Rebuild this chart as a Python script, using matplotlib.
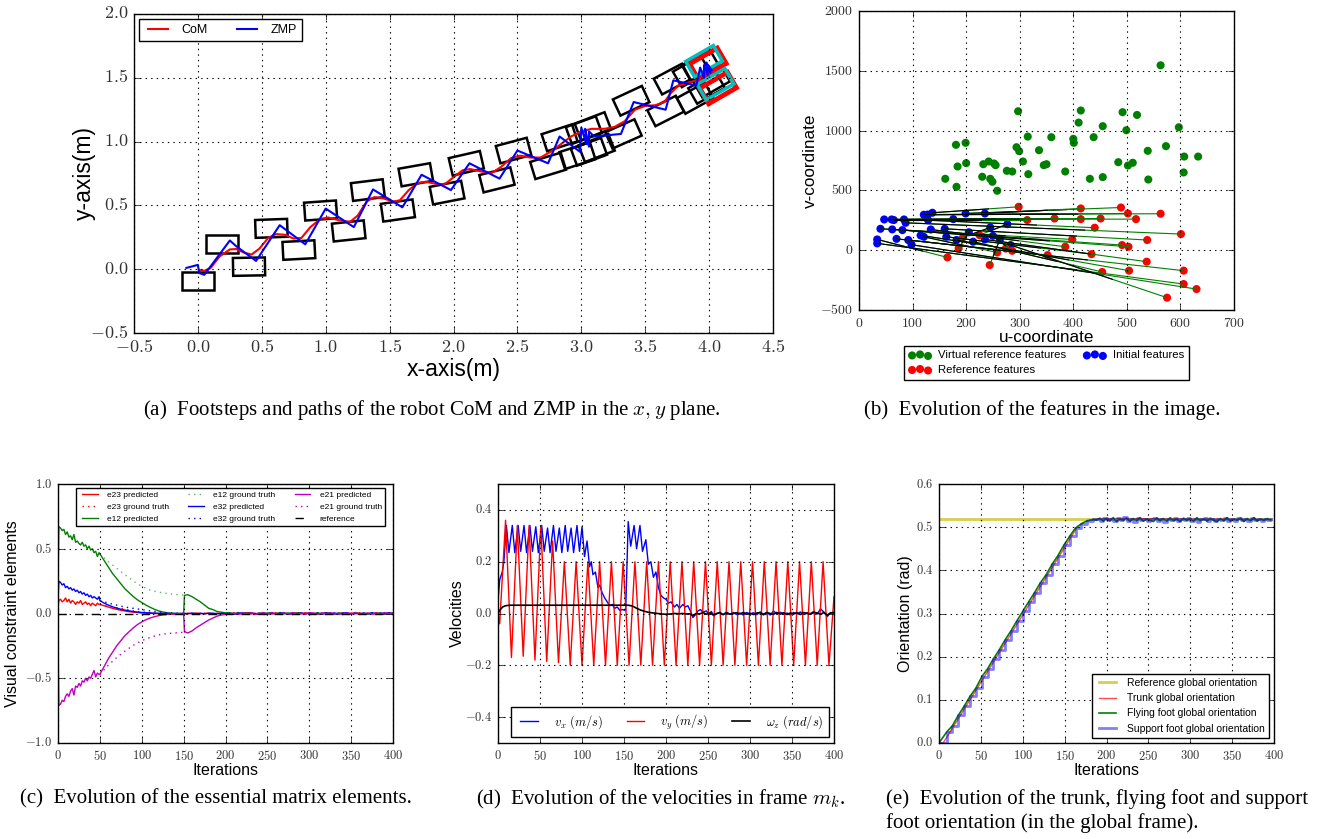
import numpy as np
import matplotlib
matplotlib.use('Agg')
import matplotlib.pyplot as plt
from matplotlib.patches import Rectangle
from matplotlib.ticker import FuncFormatter

plt.style.use('classic')
plt.rcParams['figure.facecolor'] = 'white'
plt.rcParams['savefig.facecolor'] = 'white'
plt.rcParams['font.family'] = ['Liberation Sans', 'DejaVu Sans']
plt.rcParams['mathtext.fontset'] = 'cm'

# ---------------- (a) footsteps, CoM and ZMP ----------------
foot_x = [0.00, 0.19, 0.40, 0.575, 0.79, 0.96, 1.18, 1.33, 1.565, 1.705, 1.95, 2.10, 2.34,
          2.47, 2.74, 2.83, 2.97, 3.02, 3.06, 3.09, 3.12, 3.33, 3.39, 3.66, 3.71, 3.89,
          3.86, 3.93, 3.98, 4.02]
foot_y = [-0.09, 0.20, 0.02, 0.32, 0.15, 0.46, 0.30, 0.62, 0.46, 0.74, 0.60, 0.83, 0.70,
          0.93, 0.81, 1.03, 0.89, 1.09, 0.92, 1.12, 0.95, 1.06, 1.32, 1.24, 1.49, 1.34,
          1.55, 1.60, 1.42, 1.47]
foot_th = [0, 0, 1, 2, 3, 4, 6, 7, 8, 10, 11, 13, 14,
           15, 17, 18, 18, 20, 20, 21, 21, 24, 25, 27, 28, 29,
           30, 30, 30, 30]
final_x = [3.99, 4.07]
final_y = [1.61, 1.42]
goal_x = [3.96, 4.05]
goal_y = [1.63, 1.45]
foot_len, foot_wid = 0.25, 0.14

com_x = [0.01, 0.05, 0.10, 0.17, 0.25, 0.30, 0.36, 0.42, 0.48, 0.55, 0.61, 0.68, 0.75, 0.81,
         0.88, 0.96, 1.02, 1.10, 1.19, 1.25, 1.32, 1.38, 1.45, 1.53, 1.58, 1.65, 1.72, 1.78,
         1.86, 1.93, 2.00, 2.07, 2.13, 2.22, 2.30, 2.37, 2.45, 2.52, 2.60, 2.68, 2.76, 2.84,
         2.92, 3.00, 3.08, 3.18, 3.26, 3.34, 3.42, 3.50, 3.58, 3.65, 3.70, 3.76, 3.83, 3.90,
         3.96, 4.00]
com_y = [-0.005, -0.013, 0.01, 0.10, 0.155, 0.158, 0.13, 0.115, 0.16, 0.245, 0.275, 0.27,
         0.24, 0.245, 0.33, 0.395, 0.405, 0.385, 0.37, 0.42, 0.53, 0.565, 0.555, 0.53, 0.54,
         0.62, 0.675, 0.685, 0.67, 0.665, 0.72, 0.775, 0.785, 0.765, 0.755, 0.80, 0.87, 0.89,
         0.875, 0.875, 0.92, 0.98, 1.04, 1.08, 1.10, 1.10, 1.115, 1.16, 1.25, 1.28, 1.285,
         1.31, 1.38, 1.44, 1.46, 1.48, 1.52, 1.55]

zmp_x = [-0.09, 0.0, 0.01, 0.05, 0.25, 0.30, 0.455, 0.64, 0.84, 1.0, 1.22, 1.37, 1.60,
         1.75, 1.98, 2.125, 2.36, 2.50, 2.74, 2.83, 2.99, 3.00, 3.04, 3.03, 3.06, 3.06,
         3.10, 3.31, 3.41, 3.66, 3.72, 3.90, 3.93, 3.96, 3.96, 3.99, 3.98, 4.01, 3.99, 4.02]
zmp_y = [0.01, 0.034, -0.03, -0.044, 0.225, 0.18, 0.065, 0.345, 0.195, 0.475, 0.33, 0.625,
         0.485, 0.74, 0.62, 0.83, 0.71, 0.93, 0.83, 1.04, 0.92, 1.11, 0.98, 1.10, 0.96, 1.08,
         1.04, 1.06, 1.31, 1.25, 1.48, 1.44, 1.58, 1.50, 1.60, 1.52, 1.62, 1.54, 1.60, 1.56]

# ---------------- (b) image features ----------------
virt_u = [563, 297, 414, 492, 519, 410, 597, 455, 499, 315, 359, 400, 401, 438, 181, 199,
          294, 299, 336, 573, 539, 607, 633, 184, 200, 232, 242, 252, 255, 306, 345, 350,
          484, 502, 511, 161, 230, 245, 249, 182, 258, 276, 286, 316, 385, 431, 455, 540, 606]
virt_v = [1546, 1162, 1168, 1154, 1131, 1067, 1028, 1037, 1003, 950, 945, 931, 898, 945,
          881, 898, 861, 828, 836, 870, 831, 783, 783, 700, 728, 719, 742, 725, 711, 742,
          711, 719, 736, 708, 731, 597, 614, 597, 572, 530, 497, 664, 658, 636, 658, 597,
          611, 591, 650]
init_u = [137, 199, 235, 128, 121, 176, 47, 61, 84, 65, 129, 87, 277, 245, 40, 160, 62,
          134, 81, 205, 115, 250, 121, 163, 70, 34, 235, 263, 92, 182, 213, 34, 98, 283]
init_v = [313, 307, 307, 298, 296, 260, 257, 257, 257, 252, 251, 229, 218, 190, 179, 179,
          174, 173, 168, 150, 124, 120, 112, 112, 95, 90, 90, 90, 85, 85, 71, 57, 46, 43]
ref_u = [298, 489, 414, 502, 563, 451, 365, 517, 414, 314, 440, 601, 225, 194, 398, 538,
         491, 385, 503, 186, 274, 286, 258, 434, 352, 165, 537, 244, 606, 504, 454, 606,
         630, 575]
ref_v = [363, 357, 349, 307, 305, 265, 265, 260, 260, 252, 188, 135, 126, 107, 90, 85, 43,
         29, 29, 15, 14, -5, -19, -33, -41, -60, -96, -124, -171, -171, -182, -283, -325,
         -397]

# ---------------- (c) essential matrix elements ----------------
c_it = np.r_[0, 1:50:2, 50:151:5, 151, 155:401:5]
e12_pred = [0.25,
            0.67, 0.66, 0.64, 0.65, 0.61, 0.63, 0.59, 0.60, 0.57, 0.61, 0.55, 0.56, 0.54,
            0.53, 0.55, 0.52, 0.53, 0.50, 0.52, 0.49, 0.50, 0.47, 0.48, 0.44, 0.47,
            0.46, 0.41, 0.36, 0.31, 0.27, 0.23, 0.19, 0.16, 0.13, 0.105, 0.085, 0.065, 0.048,
            0.033, 0.02, 0.012, 0.006, 0.003, 0.001, 0.0, 0.0,
            0.14, 0.145, 0.13, 0.11, 0.09, 0.065, 0.04, 0.03, 0.015, 0.01, 0.005,
            0.006, -0.004, 0.008, -0.006, 0.003, 0.007, -0.005, 0.004, -0.007, 0.005,
            0.002, -0.006, 0.008, -0.003, 0.005, -0.008, 0.004, 0.006, -0.005, 0.003,
            -0.004, 0.007, -0.006, 0.002, 0.005, -0.007, 0.006, -0.002, 0.004, -0.006,
            0.008, -0.004, 0.003, -0.005, 0.006, -0.003, 0.005, -0.006, 0.004, 0.002]
e21_pred = [-0.20,
            -0.71, -0.70, -0.67, -0.68, -0.64, -0.62, -0.64, -0.60, -0.58, -0.63, -0.56,
            -0.57, -0.54, -0.56, -0.52, -0.53, -0.50, -0.52, -0.49, -0.50, -0.47, -0.44,
            -0.49, -0.46, -0.47,
            -0.47, -0.41, -0.35, -0.30, -0.25, -0.21, -0.17, -0.14, -0.11, -0.085, -0.065,
            -0.048, -0.035, -0.025, -0.017, -0.011, -0.007, -0.004, -0.002, -0.001, 0.0,
            -0.14, -0.15, -0.135, -0.11, -0.09, -0.07, -0.05, -0.035, -0.02, -0.012, -0.006,
            -0.005, 0.003, -0.007, 0.004, -0.002, 0.006, -0.008, 0.003, 0.005, -0.004,
            0.007, -0.003, -0.006, 0.004, -0.002, 0.008, -0.005, 0.003, -0.007, 0.005,
            0.002, -0.006, 0.004, -0.003, 0.007, -0.004, 0.002, -0.008, 0.005, -0.003,
            0.006, -0.002, -0.005, 0.004, -0.006, 0.003, -0.004, 0.007, -0.002, 0.003]
e32_pred = [0.10,
            0.25, 0.24, 0.22, 0.23, 0.20, 0.21, 0.19, 0.20, 0.18, 0.19, 0.17, 0.18, 0.16,
            0.17, 0.15, 0.16, 0.14, 0.15, 0.13, 0.14, 0.12, 0.13, 0.12, 0.11, 0.13,
            0.10, 0.08, 0.065, 0.052, 0.042, 0.033, 0.026, 0.02, 0.015, 0.011, 0.008, 0.006,
            0.004, 0.003, 0.002, 0.001, 0.0, 0.0, 0.0, 0.0, 0.0,
            0.002, -0.003, 0.004, -0.002, 0.003, -0.004, 0.002, 0.003, -0.003, 0.002, -0.002,
            0.003, -0.006, 0.002, 0.005, -0.004, 0.006, -0.002, -0.005, 0.004, -0.003,
            0.007, -0.005, 0.002, 0.004, -0.006, 0.003, -0.002, 0.005, -0.004, 0.006,
            -0.003, 0.002, -0.006, 0.005, -0.002, 0.004, -0.005, 0.003, 0.006, -0.004,
            0.002, -0.006, 0.004, -0.003, 0.005, -0.005, 0.003, -0.002, 0.006, -0.004]
e23_pred = [0.05,
            0.10, 0.11, 0.09, 0.10, 0.12, 0.09, 0.11, 0.08, 0.10, 0.09, 0.07, 0.09, 0.08,
            0.10, 0.07, 0.08, 0.09, 0.07, 0.08, 0.06, 0.08, 0.07, 0.06, 0.08, 0.07,
            0.07, 0.06, 0.05, 0.04, 0.032, 0.025, 0.019, 0.014, 0.01, 0.007, 0.005, 0.003,
            0.002, 0.0, -0.002, -0.004, -0.005, -0.005, -0.004, -0.006, -0.003,
            -0.004, 0.003, -0.002, 0.004, -0.003, 0.002, 0.003, -0.004, 0.002, -0.003, 0.003,
            -0.003, 0.005, -0.006, 0.002, 0.007, -0.004, 0.003, -0.007, 0.005, -0.002,
            -0.005, 0.006, -0.003, 0.004, -0.006, 0.002, 0.005, -0.004, 0.006, -0.002,
            0.004, -0.005, 0.003, 0.006, -0.006, 0.002, -0.003, 0.005, -0.007, 0.004,
            -0.002, 0.006, -0.004, 0.003, -0.005, 0.007, -0.003, 0.002, -0.006, 0.004]
gt_it = [50, 60, 70, 80, 90, 100, 110, 120, 130, 140, 150]
e12_gt = [0.46, 0.40, 0.35, 0.30, 0.25, 0.21, 0.18, 0.165, 0.155, 0.147, 0.143]
e21_gt = [-0.47, -0.40, -0.34, -0.29, -0.245, -0.21, -0.185, -0.165, -0.155, -0.15, -0.145]
e32_gt = [0.10, 0.08, 0.065, 0.05, 0.04, 0.03, 0.02, 0.012, 0.006, 0.003, 0.0]
e23_gt = [0.07, 0.055, 0.045, 0.035, 0.02, 0.012, 0.006, 0.002, 0.0, -0.002, -0.004]

# ---------------- (d) velocities ----------------
vx_it = [0, 2, 5, 7, 10, 13, 17, 20, 24, 27, 31, 34, 38, 41, 45, 48, 52, 55, 59, 62, 66, 69,
         73, 76, 80, 83, 87, 90, 94, 97, 100, 103, 106, 109, 111, 113, 116, 119, 121, 124,
         127, 130, 133, 136, 139, 142, 145, 148, 152, 155, 158, 162, 165, 169, 172, 176,
         179, 182, 185, 188, 191, 194, 197, 200, 203, 206, 210, 213, 216, 220, 223, 226,
         229, 232, 235, 238, 241, 244, 248, 251, 254, 257, 260, 264, 268, 272, 276, 280,
         284, 288, 292, 296, 300, 304, 308, 312, 316, 320, 324, 328, 332, 336, 340, 344,
         348, 352, 356, 360, 364, 368, 372, 376, 380, 384, 388, 392, 396, 400]
vx_val = [0.05, 0.13, 0.16, 0.2, 0.34, 0.235, 0.34, 0.235, 0.34, 0.24, 0.34, 0.235, 0.34,
          0.24, 0.335, 0.235, 0.34, 0.24, 0.33, 0.235, 0.34, 0.24, 0.33, 0.235, 0.34, 0.24,
          0.33, 0.235, 0.34, 0.24, 0.335, 0.22, 0.28, 0.18, 0.2, 0.15, 0.16, 0.1, 0.11,
          0.08, 0.06, 0.045, 0.03, 0.035, 0.02, 0.025, 0.012, 0.015, 0.012, 0.355, 0.26,
          0.34, 0.25, 0.34, 0.24, 0.285, 0.19, 0.2, 0.14, 0.16, 0.1, 0.07, 0.06, 0.055,
          0.04, 0.045, 0.025, 0.035, 0.02, 0.035, 0.025, 0.03, 0.01, -0.015, -0.005, 0.01,
          0.015, 0.005, 0.01, -0.005, 0.008, -0.01, 0.0, 0.005, -0.005, 0.006, -0.003,
          0.004, -0.004, 0.002, -0.006, 0.004, -0.002, 0.003, -0.005, 0.006, -0.002, 0.004,
          -0.006, 0.01, -0.002, 0.005, -0.004, 0.002, -0.006, 0.004, -0.002, 0.006, -0.004,
          0.003, 0.0, 0.008, -0.002, 0.018, 0.005, -0.012, 0.004, 0.0]
vy_it = [0, 2, 9, 16, 23, 30, 37, 44, 51, 58, 65, 72, 79, 86, 93, 100, 107, 114, 121, 128,
         135, 142, 149, 156, 163, 170, 177, 184, 191, 198, 205, 212, 219, 226, 233, 240,
         247, 254, 261, 268, 275, 282, 289, 296, 303, 310, 317, 324, 331, 338, 345, 352,
         359, 366, 373, 380, 387, 394, 400]
vy_val = [0.0, -0.04, 0.36, -0.17, 0.34, -0.165, 0.34, -0.18, 0.34, -0.185, 0.28, -0.19,
          0.2, -0.2, 0.2, -0.2, 0.2, -0.2, 0.2, -0.2, 0.2, -0.2, 0.2, -0.2, 0.2, -0.2,
          0.2, -0.2, 0.2, -0.2, 0.2, -0.2, 0.2, -0.2, 0.2, -0.2, 0.2, -0.2, 0.2, -0.2,
          0.2, -0.2, 0.2, -0.2, 0.2, -0.2, 0.2, -0.2, 0.2, -0.2, 0.2, -0.2, 0.2, -0.2,
          0.2, -0.2, 0.2, -0.2, 0.065]
wz_it = [0, 2, 4, 6, 9, 14, 155, 160, 165, 170, 175, 180, 185, 190, 195, 200, 205, 210,
         215, 220, 225, 228, 232, 236, 240, 244, 248, 252, 256, 260, 264, 268, 272, 276,
         280, 284, 288, 292, 296, 300, 304, 308, 312, 316, 320, 324, 328, 332, 336, 340,
         344, 348, 352, 356, 360, 364, 368, 372, 376, 380, 384, 388, 392, 396, 400]
wz_val = [0.0, 0.012, 0.02, 0.026, 0.03, 0.032, 0.032, 0.029, 0.02, 0.013, 0.008, 0.004,
          0.002, 0.0, -0.002, -0.003, -0.002, 0.0, -0.001, 0.0, -0.002, -0.001, -0.008, 0.0,
          -0.002, 0.004, -0.003, 0.002, -0.005, -0.001, 0.003, -0.004, 0.002, -0.003, 0.0,
          0.003, -0.002, 0.004, -0.003, 0.001, -0.004, 0.002, 0.003, -0.005, 0.004, 0.0,
          -0.003, 0.004, -0.002, 0.003, -0.004, 0.002, -0.001, 0.003, -0.004, 0.004, 0.0,
          -0.003, 0.004, 0.002, -0.003, 0.004, -0.006, 0.002, 0.004]

# ---------------- (e) orientations ----------------
ref_it = [0, 396]
ref_val = [0.52, 0.52]
trunk_it = [0, 5, 165, 172, 180, 190, 200, 396]
trunk_val = [0.0, 0.0, 0.5, 0.51, 0.516, 0.519, 0.52, 0.518]
sup_it = [0, 9, 16, 23, 30, 37, 44, 51, 58, 65, 72, 79, 86, 93, 100, 107, 114, 121, 128,
          135, 142, 149, 156, 163, 170, 177, 184]
sup_val = [0.0, 0.025, 0.04, 0.064, 0.085, 0.108, 0.127, 0.153, 0.172, 0.195, 0.216, 0.239,
           0.26, 0.283, 0.305, 0.327, 0.348, 0.371, 0.39, 0.414, 0.434, 0.458, 0.479, 0.498,
           0.508, 0.515, 0.518]
tail_it = np.arange(188, 397, 4)
sup_tail = [0.519, 0.515, 0.521, 0.516, 0.52, 0.514, 0.522, 0.517, 0.524, 0.515,
            0.519, 0.513, 0.521, 0.516, 0.52, 0.514, 0.518, 0.522, 0.515, 0.52,
            0.513, 0.519, 0.516, 0.521, 0.514, 0.519, 0.517, 0.522, 0.515, 0.52,
            0.513, 0.518, 0.521, 0.515, 0.519, 0.514, 0.52, 0.516, 0.522, 0.515,
            0.518, 0.514, 0.521, 0.516, 0.52, 0.515, 0.522, 0.516, 0.519, 0.514,
            0.52, 0.517, 0.518]
fly_tail = [0.516, 0.521, 0.514, 0.52, 0.515, 0.522, 0.513, 0.519, 0.516, 0.521,
            0.514, 0.52, 0.515, 0.522, 0.514, 0.519, 0.516, 0.513, 0.521, 0.515,
            0.52, 0.514, 0.522, 0.515, 0.519, 0.513, 0.521, 0.516, 0.52, 0.514,
            0.522, 0.515, 0.519, 0.514, 0.521, 0.516, 0.513, 0.52, 0.515, 0.522,
            0.514, 0.519, 0.516, 0.521, 0.513, 0.52, 0.515, 0.522, 0.514, 0.519,
            0.516, 0.52, 0.517]


def cm_fmt(fmt):
    def f(v, pos):
        if abs(v) < 1e-9:
            v = 0.0
        return '$' + (fmt % v) + '$'
    return FuncFormatter(f)


def style_axes(ax, xticks, yticks, xfmt, yfmt, size):
    ax.set_xticks(xticks)
    ax.set_yticks(yticks)
    ax.xaxis.set_major_formatter(cm_fmt(xfmt))
    ax.yaxis.set_major_formatter(cm_fmt(yfmt))
    ax.tick_params(labelsize=size, labelcolor='#333333')
    ax.grid(True, color='k', linestyle=':', linewidth=0.8)


W, H = 1342, 839
fig = plt.figure(figsize=(W / 100, H / 100), dpi=100)

def box(l, t, r, b):
    return [l / W, 1 - b / H, (r - l) / W, (b - t) / H]

def foot(ax, x, y, th, color, lw):
    ax.add_patch(Rectangle((x - foot_len / 2, y - foot_wid / 2), foot_len, foot_wid,
                           angle=th, rotation_point='center', fill=False, ec=color, lw=lw))

# ---- (a)
ax = fig.add_axes(box(134, 14, 773, 333))
for x, y, th in zip(foot_x, foot_y, foot_th):
    foot(ax, x, y, th, 'k', 1.8)
for x, y in zip(final_x, final_y):
    foot(ax, x, y, 30, 'r', 3.5)
for x, y in zip(goal_x, goal_y):
    foot(ax, x, y, 30, 'c', 2.5)
ax.plot(com_x, com_y, 'r-', lw=1.5, label='CoM')
ax.plot(zmp_x, zmp_y, 'b-', lw=1.5, label='ZMP')
ax.set_xlim(-0.5, 4.5)
ax.set_ylim(-0.5, 2.0)
style_axes(ax, np.arange(-0.5, 4.51, 0.5), np.arange(-0.5, 2.01, 0.5), '%.1f', '%.1f', 13)
ax.set_xlabel('x-axis(m)', fontsize=16.5, labelpad=2)
ax.set_ylabel('y-axis(m)', fontsize=16.5, labelpad=-4)
ax.legend(loc='upper left', ncol=2, fontsize=9, borderaxespad=0.4, handlelength=2.2,
          columnspacing=2.0)

# ---- (b)
ax = fig.add_axes(box(859, 11, 1234, 310))
for u0, v0, u1, v1 in zip(init_u, init_v, ref_u, ref_v):
    ax.plot([u0, u1], [v0, v1], color='g', lw=0.8)
    ax.plot([u0, u0 + 0.65 * (u1 - u0)], [v0, v0 + 0.65 * (v1 - v0)], color='k', lw=0.8)
h_virt = ax.scatter(virt_u, virt_v, s=34, c='g', edgecolors='none')
h_init = ax.scatter(init_u, init_v, s=34, c='b', edgecolors='none')
h_ref = ax.scatter(ref_u, ref_v, s=34, c='r', edgecolors='none')
ax.set_xlim(0, 700)
ax.set_ylim(-500, 2000)
style_axes(ax, np.arange(0, 701, 100), np.arange(-500, 2001, 500), '%d', '%d', 10)
ax.set_xlabel('u-coordinate', fontsize=12.3, labelpad=0)
ax.set_ylabel('v-coordinate', fontsize=12.3, labelpad=2)
ax.legend([h_virt, h_ref, h_init],
          ['Virtual reference features', 'Reference features', 'Initial features'],
          loc='upper center', bbox_to_anchor=(0.5, -0.12), ncol=2, fontsize=8.2,
          scatterpoints=3, borderaxespad=0, handletextpad=0.6, columnspacing=1.5,
          labelspacing=0.4)

# ---- (c)
ax = fig.add_axes(box(58, 484, 393, 743))
ax.plot(c_it, e23_pred, color='r', lw=1, label='e23 predicted')
ax.plot(gt_it, e23_gt, color='r', lw=1, ls=':', label='e23 ground truth')
ax.plot(c_it, e12_pred, color='g', lw=1, label='e12 predicted')
ax.plot(gt_it, e12_gt, color='#66b366', lw=1, ls=':', label='e12 ground truth')
ax.plot(c_it, e32_pred, color='b', lw=1, label='e32 predicted')
ax.plot(gt_it, e32_gt, color='b', lw=1, ls=':', label='e32 ground truth')
ax.plot(c_it, e21_pred, color='m', lw=1, label='e21 predicted')
ax.plot(gt_it, e21_gt, color='m', lw=1, ls=':', label='e21 ground truth')
ax.plot([0, 400], [0, 0], color='k', lw=1, ls='--', label='reference')
ax.set_xlim(0, 400)
ax.set_ylim(-1, 1)
style_axes(ax, np.arange(0, 401, 50), np.arange(-1, 1.01, 0.5), '%d', '%.1f', 9)
ax.set_xlabel('Iterations', fontsize=11.5, labelpad=0)
ax.set_ylabel('Visual constraint elements', fontsize=11.5, labelpad=4)
ax.legend(loc='upper center', bbox_to_anchor=(0.515, 0.985), ncol=3, fontsize=6,
          borderaxespad=0, handlelength=2.5, columnspacing=2.0, labelspacing=0.5)

# ---- (d)
ax = fig.add_axes(box(498, 484, 834, 743))
ax.plot(vx_it, vx_val, color='b', lw=1, label=r'$v_x\ (m/s)$')
ax.plot(vy_it, vy_val, color='r', lw=1, label=r'$v_y\ (m/s)$')
ax.plot(wz_it, wz_val, color='k', lw=1.2, label=r'$\omega_z\ (rad/s)$')
ax.set_xlim(0, 400)
ax.set_ylim(-0.5, 0.5)
style_axes(ax, np.arange(0, 401, 50), [-0.4, -0.2, 0.0, 0.2, 0.4], '%d', '%.1f', 9)
ax.set_xlabel('Iterations', fontsize=11.5, labelpad=0)
ax.set_ylabel('Velocities', fontsize=11.5, labelpad=0)
ax.legend(loc='lower center', bbox_to_anchor=(0.512, 0.025), ncol=3, fontsize=9,
          borderaxespad=0, handlelength=2.0, columnspacing=1.6, handletextpad=1.0)

# ---- (e)
ax = fig.add_axes(box(939, 484, 1274, 743))
ax.plot(ref_it, ref_val, color='y', lw=2, alpha=0.7, label='Reference global orientation')
ax.plot(trunk_it, trunk_val, color='r', lw=1, alpha=0.7, label='Trunk global orientation')
ax.plot(list(sup_it) + list(tail_it), sup_val + fly_tail, color='g', lw=1.2,
        label='Flying foot global orientation')
ax.plot(list(sup_it) + list(tail_it), sup_val + sup_tail, color='b', lw=2, alpha=0.5,
        drawstyle='steps-post', label='Support foot global orientation')
ax.set_xlim(0, 400)
ax.set_ylim(0, 0.6)
style_axes(ax, np.arange(0, 401, 50), np.arange(0, 0.61, 0.1), '%d', '%.1f', 9)
ax.set_xlabel('Iterations', fontsize=11.5, labelpad=0)
ax.set_ylabel('Orientation (rad)', fontsize=11.5, labelpad=2)
ax.legend(loc='lower right', bbox_to_anchor=(0.985, 0.02), fontsize=7.5, borderaxespad=0,
          handlelength=2.2, labelspacing=0.5)

# ---- captions
cap = dict(family=['Liberation Serif', 'DejaVu Serif'], fontsize=15)
fig.text(432 / W, 1 - 410 / H,
         r'(a)  Footsteps and paths of the robot CoM and ZMP in the $x,y$ plane.',
         ha='center', va='center', **cap)
fig.text(1042 / W, 1 - 410 / H, '(b)  Evolution of the features in the image.',
         ha='center', va='center', **cap)
fig.text(216 / W, 1 - 799 / H, '(c)  Evolution of the essential matrix elements.',
         ha='center', va='center', **cap)
fig.text(661 / W, 1 - 799 / H, r'(d)  Evolution of the velocities in frame $m_k$.',
         ha='center', va='center', **cap)
fig.text(886 / W, 1 - 799 / H, '(e)  Evolution of the trunk, flying foot and support',
         ha='left', va='center', **cap)
fig.text(886 / W, 1 - 823 / H, 'foot orientation (in the global frame).',
         ha='left', va='center', **cap)

fig.savefig('out.png', dpi=100)
